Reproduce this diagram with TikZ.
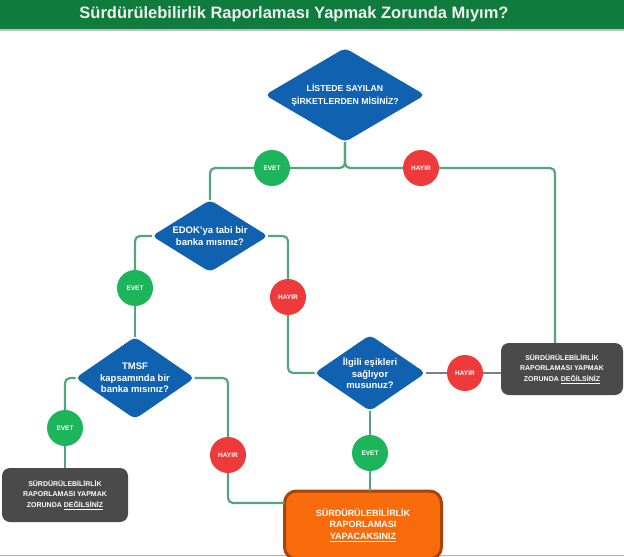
\documentclass[tikz,border=0pt]{standalone}
\usepackage{fontspec}
\setmainfont{Liberation Sans}
\usetikzlibrary{shapes.geometric}
\definecolor{tgreen}{HTML}{0F7B3C}
\definecolor{qblue}{HTML}{1062B0}
\definecolor{egreen}{HTML}{1DB55C}
\definecolor{hred}{HTML}{EE3A3A}
\definecolor{bgray}{HTML}{4A4A4A}
\definecolor{lgreen}{HTML}{55A57A}
\definecolor{rorange}{HTML}{F76B0B}
\definecolor{rbrown}{HTML}{A8430C}
\begin{document}
\begin{tikzpicture}[x=1pt,y=-1pt,
  qid/.style={diamond, fill=qblue, text=white, align=center, inner sep=0pt, outer sep=0pt, rounded corners=5pt, shape aspect=1.45, font=\bfseries\fontsize{9.5}{11.5}\selectfont},
  eid/.style={circle, fill=egreen, text=white, minimum size=36pt, inner sep=0pt, outer sep=0pt, font=\bfseries\fontsize{6.5}{7}\selectfont},
  hid/.style={eid, fill=hred},
  bid/.style={rectangle, fill=bgray, text=white, align=center, rounded corners=8pt, inner sep=0pt, outer sep=0pt, font=\bfseries\fontsize{7}{10.5}\selectfont},
  ln/.style={draw=lgreen, line width=2.2pt, rounded corners=5pt},
  gln/.style={draw=gray, line width=2pt}]
\useasboundingbox (0,0) rectangle (624,557);
\node[fill=tgreen, minimum width=624pt, minimum height=29pt, inner sep=0pt, text=white!94!black, font=\bfseries\fontsize{16.5}{18}\selectfont] (title) at (312,14.5){\hspace*{-36pt}Sürdürülebilirlik Raporlaması Yapmak Zorunda Mıyım?};
\draw[gray!50, line width=1.5pt] (0,30) -- (624,30);
\draw[gray!60, line width=1.5pt] (0,555.5) -- (624,555.5);
\node[qid, shape aspect=1.7, minimum width=160pt, minimum height=94pt, font=\bfseries\fontsize{8.7}{13}\selectfont] (qid1) at (345,95){LİSTEDE SAYILAN\\ŞİRKETLERDEN MİSİNİZ?};
\node[qid, shape aspect=1.6, minimum width=116pt, minimum height=72pt] (qid2) at (210,236){EDOK'ya tabi bir\\banka mısınız?};
\node[qid, minimum width=119pt, minimum height=82pt] (qid3) at (135,378){TMSF\\kapsamında bir\\banka mısınız?};
\node[qid, minimum width=111pt, minimum height=76pt] (qid4) at (370,373){İlgili eşikleri\\sağlıyor\\musunuz?};
\node[eid] (eid1) at (272,168){EVET};
\node[hid] (hid1) at (421,168){HAYIR};
\node[eid] (eid2) at (135,288){EVET};
\node[hid] (hid2) at (288,297){HAYIR};
\node[eid] (eid3) at (65,428){EVET};
\node[hid] (hid3) at (228,455){HAYIR};
\node[hid] (hid4) at (465,373){HAYIR};
\node[eid] (eid4) at (370,453){EVET};
\node[bid, minimum width=122pt, minimum height=52pt] (bid1) at (562,369){SÜRDÜRÜLEBİLİRLİK\\RAPORLAMASI YAPMAK\\ZORUNDA \underline{DEĞİLSİNİZ}};
\node[bid, minimum width=126pt, minimum height=54pt] (bid2) at (65,495){SÜRDÜRÜLEBİLİRLİK\\RAPORLAMASI YAPMAK\\ZORUNDA \underline{DEĞİLSİNİZ}};
\node[bid, fill=rorange, draw=rbrown, line width=3pt, rounded corners=12pt, minimum width=157pt, minimum height=68pt, font=\bfseries\fontsize{9}{11.5}\selectfont] (bid3) at (363,525){SÜRDÜRÜLEBİLİRLİK\\RAPORLAMASI\\\underline{YAPACAKSINIZ}};
\draw[ln](qid1.south) |- (eid1.east);
\draw[ln](eid1.west) -| (qid2.north);
\draw[ln](qid1.south) |- (hid1.west);
\draw[ln](hid1.east) -| ([xshift=-7pt]bid1.north);
\draw[ln](qid2.west) -| (eid2.north);
\draw[ln](eid2.south) -- (qid3.north);
\draw[ln](qid2.east) -| (hid2.north);
\draw[ln](hid2.south) |- (qid4.west);
\draw[ln](qid3.west) -| (eid3.north);
\draw[ln](eid3.south) -- (bid2.north);
\draw[ln](qid3.east) -| (hid3.north);
\draw[ln](hid3.south) |- ([yshift=-12pt]bid3.north west);
\draw[gln](qid4.east) -- (hid4.west);
\draw[gln](hid4.east) -- (hid4 -| bid1.west);
\draw[ln](qid4.south) -- (eid4.north);
\draw[ln](eid4.south) -- (eid4.south |- bid3.north);
\end{tikzpicture}
\end{document}
